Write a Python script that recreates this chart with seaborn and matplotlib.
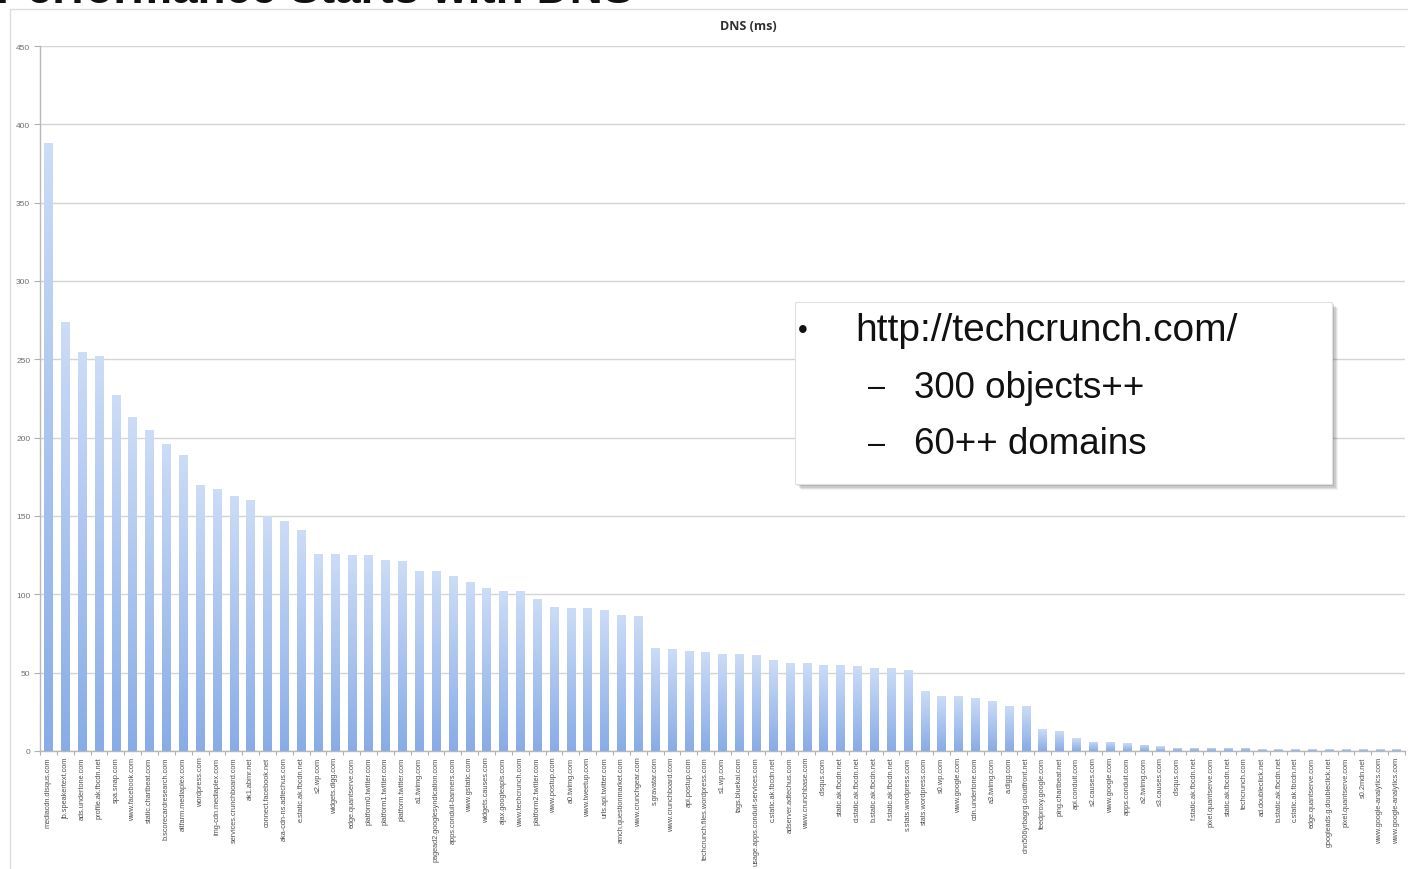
import numpy as np
import pandas as pd
import matplotlib
matplotlib.use("Agg")
import matplotlib.pyplot as plt
import seaborn as sns
from matplotlib.colors import LinearSegmentedColormap
from matplotlib.patches import Rectangle

# ---------------- data ----------------
domains = [
    "mediacdn.disqus.com", "jb.speakertext.com", "ads.undertone.com", "profile.ak.fbcdn.net",
    "spa.snap.com", "www.facebook.com", "static.chartbeat.com", "b.scorecardresearch.com",
    "altfarm.mediaplex.com", "wordpress.com", "img-cdn.mediaplex.com", "services.crunchboard.com",
    "ak1.abmr.net", "connect.facebook.net", "aka-cdn-ns.adtechus.com", "e.static.ak.fbcdn.net",
    "s2.wp.com", "widgets.digg.com", "edge.quantserve.com", "platform0.twitter.com",
    "platform1.twitter.com", "platform.twitter.com", "a1.twimg.com", "pagead2.googlesyndication.com",
    "apps.conduit-banners.com", "www.gstatic.com", "widgets.causes.com", "ajax.googleapis.com",
    "www.techcrunch.com", "platform2.twitter.com", "www.postup.com", "a0.twimg.com",
    "www.tweetup.com", "urls.api.twitter.com", "amch.questionmarket.com", "www.crunchgear.com",
    "s.gravatar.com", "www.crunchboard.com", "api.postup.com", "techcrunch.files.wordpress.com",
    "s1.wp.com", "tags.bluekai.com", "usage.apps.conduit-services.com", "c.static.ak.fbcdn.net",
    "adserver.adtechus.com", "www.crunchbase.com", "disqus.com", "static.ak.fbcdn.net",
    "d.static.ak.fbcdn.net", "b.static.ak.fbcdn.net", "f.static.ak.fbcdn.net", "s.stats.wordpress.com",
    "stats.wordpress.com", "s0.wp.com", "www.google.com", "cdn.undertone.com",
    "a3.twimg.com", "a.digg.com", "dnn506yrbagrg.cloudfront.net", "feedproxy.google.com",
    "ping.chartbeat.net", "api.conduit.com", "s2.causes.com", "www.google.com",
    "apps.conduit.com", "a2.twimg.com", "s3.causes.com", "disqus.com",
    "f.static.ak.fbcdn.net", "pixel.quantserve.com", "static.ak.fbcdn.net", "techcrunch.com",
    "ad.doubleclick.net", "b.static.ak.fbcdn.net", "c.static.ak.fbcdn.net", "edge.quantserve.com",
    "googleads.g.doubleclick.net", "pixel.quantserve.com", "s0.2mdn.net", "www.google-analytics.com",
    "www.google-analytics.com",
]
dns_ms = [
    388, 274, 255, 252, 227, 213, 205, 196, 189, 170, 167, 163, 160, 150, 147, 141,
    126, 126, 125, 125, 122, 121, 115, 115, 112, 108, 104, 102, 102, 97, 92, 91,
    91, 90, 87, 86, 66, 65, 64, 63, 62, 62, 61, 58, 56, 56, 55, 55,
    54, 53, 53, 52, 38, 35, 35, 34, 32, 29, 29, 14, 13, 8, 6, 6,
    5, 4, 3, 2, 2, 2, 2, 2, 1, 1, 1, 1, 1, 1, 1, 1,
    1,
]
y_ticks = [0, 50, 100, 150, 200, 250, 300, 350, 400, 450]

chart_title = "DNS (ms)"
slide_title = "Performance Starts with DNS"
callout_main = "http://techcrunch.com/"
callout_subs = ["300 objects++", "60++ domains"]

df = pd.DataFrame({"pos": np.arange(len(dns_ms)), "ms": dns_ms})

# ---------------- figure ----------------
sns.set_theme(style="white")
plt.rcParams["font.family"] = ["Liberation Sans", "DejaVu Sans"]

W, H = 1408, 870
fig = plt.figure(figsize=(W / 100, H / 100), dpi=100)
fig.patch.set_facecolor("white")

# slide panel border (no fill, so it does not hide the axes)
fig.patches.append(Rectangle((10 / W, -0.1), 1.2, 1.1 - 10 / H, transform=fig.transFigure,
                             facecolor="none", edgecolor="#dcdcdc", lw=1.0, zorder=-1))

ax = fig.add_axes([40 / W, 1 - 752 / H, (1405 - 40) / W, (752 - 47) / H])
ax.set_facecolor("none")

sns.barplot(data=df, x="pos", y="ms", ax=ax, width=0.5, color="#a8c2ef",
            native_scale=True, saturation=1, errorbar=None)

# vertical gradient inside each bar
cmap = LinearSegmentedColormap.from_list("g", ["#88ace6", "#cddcf7"])
grad = np.linspace(0, 1, 256).reshape(-1, 1)
for p in list(ax.patches):
    x0, w, h = p.get_x(), p.get_width(), p.get_height()
    if h <= 0:
        continue
    p.set_edgecolor("none")
    im = ax.imshow(grad, extent=[x0, x0 + w, 0, h], origin="lower", aspect="auto",
                   cmap=cmap, zorder=3)
    im.set_clip_path(p)

ax.set_xlim(-0.5, len(dns_ms) - 0.5)
ax.set_ylim(0, 450)
ax.set_yticks(y_ticks)
ax.set_yticklabels([str(v) for v in y_ticks], fontsize=6, color="#707070")
ax.set_xticks(df["pos"])
ax.set_xticklabels(domains, rotation=90, fontsize=5.3, color="#505050")
ax.set_xticks(np.arange(len(dns_ms) + 1) - 0.5, minor=True)
ax.tick_params(axis="x", which="major", length=0, pad=4)
ax.tick_params(axis="x", which="minor", length=3, color="#b0b0b0", width=0.8, bottom=True)
ax.tick_params(axis="y", length=4, color="#b0b0b0", width=0.8, left=True, pad=3)
ax.yaxis.grid(True, color="#d4d4d4", lw=1.0)
ax.set_axisbelow(True)
for s in ["top", "right"]:
    ax.spines[s].set_visible(False)
for s in ["left", "bottom"]:
    ax.spines[s].set_color("#b8b8b8")
    ax.spines[s].set_linewidth(1.0)
ax.set_xlabel("")
ax.set_ylabel("")

fig.text(748 / W, 1 - 26 / H, chart_title, ha="center", va="center", fontsize=9,
         fontweight="bold", color="#303030", family=["Open Sans", "DejaVu Sans"])

# slide title, mostly cut off at the top as in the reference
fig.text(-4 / W, 1 - (-9) / H, slide_title, ha="left", va="center", fontsize=33,
         fontweight="bold", color="#111111")

# callout box with soft shadow
bx0, bx1, by0, by1 = 795, 1332, 303, 485
for i, a in enumerate([0.05, 0.07, 0.09, 0.12]):
    off = 6 - i * 1.2
    fig.patches.append(Rectangle(((bx0 + off) / W, 1 - (by1 + off) / H),
                                 (bx1 - bx0) / W, (by1 - by0) / H,
                                 transform=fig.transFigure, facecolor="black", alpha=a,
                                 edgecolor="none", zorder=10))
fig.patches.append(Rectangle((bx0 / W, 1 - by1 / H), (bx1 - bx0) / W, (by1 - by0) / H,
                             transform=fig.transFigure, facecolor="white",
                             edgecolor="#e0e0e0", lw=0.8, zorder=11))

fig.text(798 / W, 1 - 331 / H, "•", fontsize=20, va="center", ha="left", color="#111111", zorder=12)
fig.text(855 / W, 1 - 331 / H, callout_main, fontsize=28, va="center", ha="left",
         color="#111111", zorder=12)
for k, t in enumerate(callout_subs):
    yy = 1 - (388 + 57 * k) / H
    fig.text(868 / W, yy, "–", fontsize=22, va="center", ha="left", color="#111111", zorder=12)
    fig.text(914 / W, yy, t, fontsize=26.5, va="center", ha="left", color="#111111", zorder=12)

fig.savefig("out.png", dpi=100)
